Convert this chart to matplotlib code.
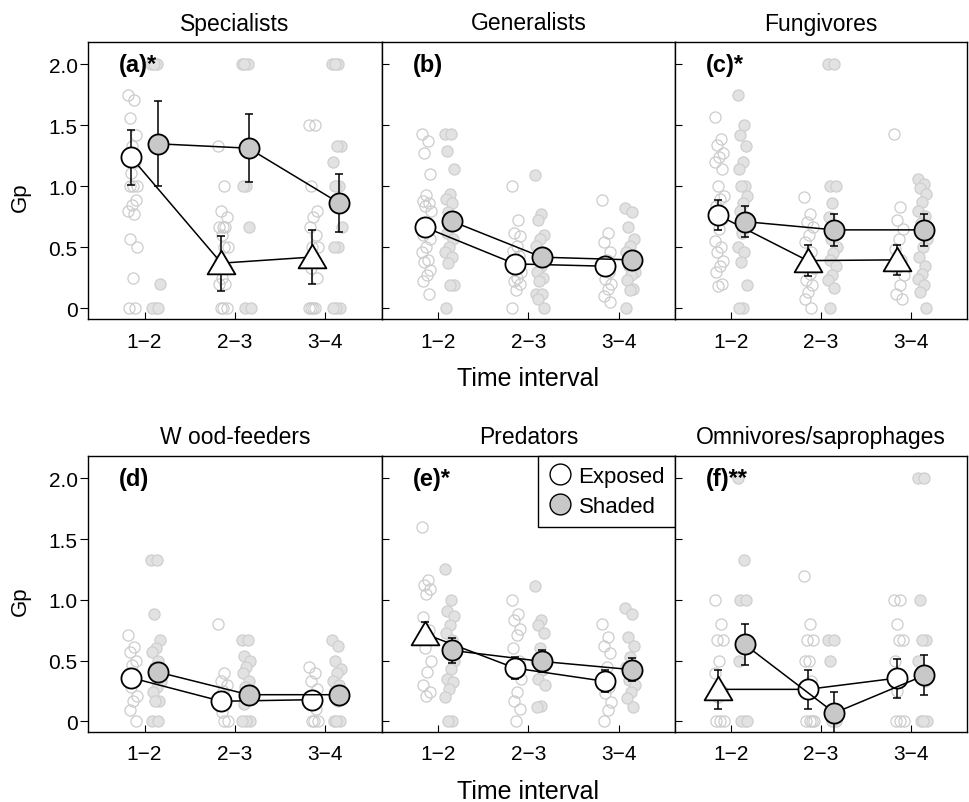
import numpy as np
import matplotlib
matplotlib.use('Agg')
import matplotlib.pyplot as plt
from matplotlib.lines import Line2D
from matplotlib.path import Path

plt.rcParams['font.family'] = ['Liberation Sans', 'DejaVu Sans']

# ── Data ──────────────────────────────────────────────────
intervals = ['1\u22122', '2\u22123', '3\u22124']
titles = ['Specialists', 'Generalists', 'Fungivores',
          'W ood-feeders', 'Predators', 'Omnivores/saprophages']
tags = ['(a)*', '(b)', '(c)*', '(d)', '(e)*', '(f)**']

# mean Gp +- SE, exposed plots
exp_mean = [[1.24, 0.37, 0.42], [0.665, 0.364, 0.345], [0.766, 0.391, 0.397],
            [0.359, 0.165, 0.178], [0.72, 0.438, 0.329], [0.263, 0.263, 0.356]]
exp_err = [[0.225, 0.225, 0.225], [0.06, 0.05, 0.05], [0.125, 0.13, 0.125],
           [0.05, 0.04, 0.04], [0.095, 0.09, 0.09], [0.16, 0.16, 0.16]]
exp_shape = [['o', '^', '^'], ['o', 'o', 'o'], ['o', '^', '^'],
             ['o', 'o', 'o'], ['^', 'o', 'o'], ['^', 'o', 'o']]

# mean Gp +- SE, shaded plots
shd_mean = [[1.349, 1.313, 0.864], [0.714, 0.419, 0.397], [0.711, 0.643, 0.643],
            [0.405, 0.219, 0.219], [0.584, 0.493, 0.425], [0.633, 0.069, 0.378]]
shd_err = [[0.35, 0.28, 0.24], [0.06, 0.05, 0.05], [0.13, 0.13, 0.13],
           [0.06, 0.05, 0.05], [0.1, 0.09, 0.095], [0.17, 0.17, 0.165]]

# raw Gp per plot (exposed / shaded), one list per interval
spec_exp_raw = [[1.75, 1.71, 1.56, 1.42, 1.33, 1.25, 1.2, 1.11, 1.0, 1.0, 1.0, 0.89, 0.85, 0.8, 0.77, 0.57, 0.5, 0.25, 0, 0],
                [1.33, 1.0, 0.8, 0.75, 0.67, 0.67, 0.67, 0.6, 0.5, 0.5, 0.4, 0.33, 0.25, 0.2, 0.2, 0, 0, 0],
                [1.5, 1.5, 1.0, 0.8, 0.75, 0.67, 0.6, 0.5, 0.5, 0.4, 0.33, 0.25, 0, 0, 0, 0]]
spec_shd_raw = [[2.0, 2.0, 2.0, 0.2, 0, 0, 0],
                [2.0, 2.0, 2.0, 1.33, 1.0, 1.0, 0.67, 0, 0],
                [2.0, 2.0, 2.0, 1.33, 1.33, 1.2, 1.0, 1.0, 0.67, 0.5, 0.5, 0, 0, 0]]
gen_exp_raw = [[1.43, 1.37, 1.27, 1.1, 0.93, 0.88, 0.86, 0.84, 0.8, 0.67, 0.6, 0.57, 0.5, 0.46, 0.4, 0.38, 0.31, 0.27, 0.22, 0.12],
               [1.0, 0.72, 0.62, 0.59, 0.51, 0.47, 0.43, 0.38, 0.3, 0.25, 0.22, 0.2, 0.15, 0],
               [0.89, 0.62, 0.54, 0.46, 0.4, 0.35, 0.3, 0.24, 0.2, 0.16, 0.1, 0.05]]
gen_shd_raw = [[1.43, 1.43, 1.29, 1.14, 0.94, 0.9, 0.86, 0.79, 0.75, 0.7, 0.62, 0.57, 0.5, 0.46, 0.42, 0.37, 0.19, 0.19, 0],
               [1.09, 0.77, 0.72, 0.6, 0.57, 0.51, 0.46, 0.42, 0.4, 0.35, 0.3, 0.25, 0.22, 0.12, 0.12, 0.08, 0],
               [0.82, 0.79, 0.67, 0.57, 0.51, 0.46, 0.42, 0.35, 0.3, 0.27, 0.23, 0.16, 0.15, 0]]
fun_exp_raw = [[1.57, 1.39, 1.34, 1.27, 1.24, 1.2, 1.14, 1.0, 0.92, 0.9, 0.84, 0.73, 0.65, 0.55, 0.5, 0.46, 0.39, 0.35, 0.3, 0.2, 0.18],
               [0.91, 0.77, 0.71, 0.67, 0.6, 0.54, 0.46, 0.4, 0.33, 0.28, 0.23, 0.19, 0.13, 0.08, 0],
               [1.43, 0.83, 0.72, 0.65, 0.57, 0.49, 0.4, 0.33, 0.27, 0.19, 0.12, 0.08]]
fun_shd_raw = [[1.75, 1.5, 1.42, 1.33, 1.2, 1.14, 1.0, 1.0, 0.92, 0.86, 0.8, 0.75, 0.62, 0.5, 0.46, 0.38, 0.19, 0, 0],
               [2.0, 2.0, 1.0, 1.0, 0.86, 0.75, 0.67, 0.57, 0.5, 0.45, 0.4, 0.35, 0.27, 0.23, 0.17, 0],
               [1.06, 1.02, 0.99, 0.94, 0.87, 0.8, 0.76, 0.7, 0.57, 0.5, 0.42, 0.35, 0.28, 0.24, 0.19, 0.13, 0]]
wood_exp_raw = [[0.71, 0.61, 0.57, 0.5, 0.46, 0.4, 0.33, 0.28, 0.21, 0.17, 0.09, 0],
                [0.8, 0.4, 0.33, 0.3, 0.25, 0.2, 0.14, 0.08, 0, 0],
                [0.45, 0.4, 0.33, 0.27, 0.2, 0.14, 0.1, 0, 0, 0]]
wood_shd_raw = [[1.33, 1.33, 0.88, 0.67, 0.6, 0.57, 0.5, 0.45, 0.33, 0.28, 0.24, 0.17, 0.17, 0, 0],
                [0.67, 0.67, 0.54, 0.5, 0.45, 0.4, 0.33, 0.28, 0.25, 0.2, 0.14, 0, 0, 0],
                [0.67, 0.62, 0.5, 0.43, 0.4, 0.33, 0.3, 0.25, 0.2, 0.17, 0, 0, 0]]
pred_exp_raw = [[1.6, 1.16, 1.12, 1.09, 1.05, 0.86, 0.75, 0.6, 0.5, 0.41, 0.3, 0.24, 0.21],
                [1.0, 0.88, 0.83, 0.76, 0.71, 0.6, 0.5, 0.44, 0.35, 0.24, 0.17, 0.1, 0],
                [0.8, 0.69, 0.62, 0.56, 0.45, 0.34, 0.28, 0.23, 0.16, 0.09, 0]]
pred_shd_raw = [[1.25, 1.0, 0.91, 0.87, 0.79, 0.73, 0.67, 0.58, 0.5, 0.43, 0.35, 0.32, 0.27, 0.2, 0, 0],
                [1.11, 0.83, 0.79, 0.73, 0.6, 0.5, 0.42, 0.35, 0.3, 0.13, 0.12],
                [0.93, 0.88, 0.69, 0.62, 0.53, 0.45, 0.4, 0.34, 0.3, 0.24, 0.19, 0.12]]
omni_exp_raw = [[1.0, 0.8, 0.67, 0.67, 0.5, 0.4, 0.25, 0.2, 0, 0, 0],
                [1.2, 0.8, 0.67, 0.67, 0.5, 0.5, 0.33, 0.25, 0, 0, 0, 0],
                [1.0, 1.0, 0.8, 0.67, 0.67, 0.5, 0.33, 0.25, 0, 0, 0]]
omni_shd_raw = [[2.0, 1.33, 1.0, 1.0, 0.67, 0.5, 0, 0, 0],
                [0.67, 0.67, 0.5, 0, 0],
                [2.0, 2.0, 1.0, 0.67, 0.67, 0.5, 0.33, 0, 0, 0]]

exp_raw = [spec_exp_raw, gen_exp_raw, fun_exp_raw, wood_exp_raw, pred_exp_raw, omni_exp_raw]
shd_raw = [spec_shd_raw, gen_shd_raw, fun_shd_raw, wood_shd_raw, pred_shd_raw, omni_shd_raw]

# ── Layout ────────────────────────────────────────────────
W, H = 970, 803
fig = plt.figure(figsize=(W / 100, H / 100), dpi=100)
col_x = [88, 382, 675, 967]
row_y = [(43, 320), (457, 733)]

tri = Path([(-1.0, -0.78), (1.0, -0.78), (0.0, 0.92), (-1.0, -0.78)],
           [Path.MOVETO, Path.LINETO, Path.LINETO, Path.CLOSEPOLY])


def jitter(n):
    # deterministic spread of raw points around their column
    return 0.055 * (((np.arange(n) * 0.618) % 1.0) * 2 - 1)


axes = []
for r in range(2):
    for c in range(3):
        x0, x1 = col_x[c], col_x[c + 1]
        top, bot = row_y[r]
        ax = fig.add_axes([x0 / W, 1 - bot / H, (x1 - x0) / W, (bot - top) / H])
        axes.append(ax)

xs = np.array([1, 2, 3])
for k, ax in enumerate(axes):
    r, c = divmod(k, 3)

    # raw points
    for j in range(3):
        ve = np.array(exp_raw[k][j])
        vs = np.array(shd_raw[k][j])
        ax.plot(xs[j] - 0.13 + jitter(len(ve)), ve, 'o', ms=8, mfc='none',
                mec='#cccccc', mew=0.9, zorder=1)
        ax.plot(xs[j] + 0.13 + jitter(len(vs)), vs, 'o', ms=8, mfc='#e2e2e2',
                mec='#cfcfcf', mew=0.9, zorder=1)

    # means
    xe = xs - 0.15
    xsh = xs + 0.15
    ax.errorbar(xe, exp_mean[k], yerr=exp_err[k], fmt='none', ecolor='k',
                elinewidth=1.1, capsize=3, capthick=1.1, zorder=2)
    ax.plot(xe, exp_mean[k], '-', color='k', lw=1.1, zorder=2)
    for j in range(3):
        if exp_shape[k][j] == '^':
            ax.plot(xe[j], exp_mean[k][j], marker=tri, ms=20, mfc='white',
                    mec='k', mew=1.3, zorder=3)
        else:
            ax.plot(xe[j], exp_mean[k][j], 'o', ms=14.5, mfc='white',
                    mec='k', mew=1.3, zorder=3)

    ax.errorbar(xsh, shd_mean[k], yerr=shd_err[k], fmt='none', ecolor='k',
                elinewidth=1.1, capsize=3, capthick=1.1, zorder=4)
    ax.plot(xsh, shd_mean[k], '-', color='k', lw=1.1, zorder=4)
    ax.plot(xsh, shd_mean[k], 'o', ms=14.5, mfc='#c8c8c8', mec='k',
            mew=1.3, zorder=5)

    ax.set_xlim(0.375, 3.625)
    ax.set_ylim(-0.088, 2.184)
    ax.set_xticks(xs)
    ax.set_xticklabels(intervals)
    ax.tick_params(axis='x', direction='in', length=5, width=0.8,
                   labelsize=15, pad=9)
    ax.set_yticks([0, 0.5, 1.0, 1.5, 2.0])
    if c == 0:
        ax.set_yticklabels(['0', '0.5', '1.0', '1.5', '2.0'])
        ax.tick_params(axis='y', direction='out', length=5.5, width=0.8,
                       labelsize=15, pad=2)
        ax.set_ylabel('Gp', fontsize=16)
        ax.yaxis.set_label_coords(-0.195, 0.444 if r == 0 else 0.478)
    else:
        ax.tick_params(axis='y', direction='in', length=5, width=0.8,
                       labelleft=False)
    for s in ax.spines.values():
        s.set_linewidth(1.0)

    ax.set_title(titles[k], fontsize=16.5, pad=9)
    ax.text(0.72, 2.0, tags[k], fontsize=17, fontweight='bold',
            ha='left', va='center', zorder=6)
    if c == 1:
        ax.set_xlabel('Time interval', fontsize=18, labelpad=11)

# legend in panel (e)
handles = [Line2D([], [], ls='none', marker='o', ms=15, mfc='white', mec='k', mew=1.0),
           Line2D([], [], ls='none', marker='o', ms=15, mfc='#c8c8c8', mec='k', mew=1.0)]
leg = axes[4].legend(handles, ['Exposed', 'Shaded'], loc='upper right',
                     bbox_to_anchor=(1, 1), borderaxespad=0, fontsize=16,
                     fancybox=False, framealpha=1, edgecolor='k',
                     handletextpad=0.35, handlelength=1.0, labelspacing=0.4,
                     borderpad=0.45)
leg.get_frame().set_linewidth(1.0)
leg.set_zorder(10)

plt.savefig('out.png', dpi=100)
